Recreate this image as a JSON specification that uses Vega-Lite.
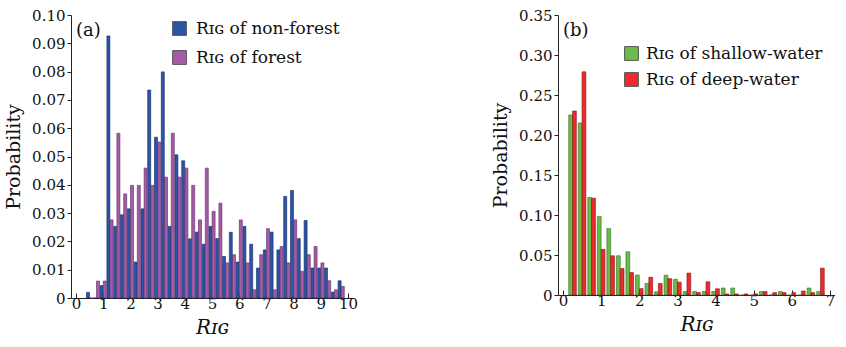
{
  "$schema": "https://vega.github.io/schema/vega-lite/v6.json",
  "padding": {"left": 4, "top": 8, "right": 0, "bottom": 0},
  "spacing": 133,
  "resolve": {"scale": {"color": "independent"}, "legend": {"color": "independent"}},
  "config": {
    "view": {"stroke": null},
    "font": "DejaVu Serif",
    "title": {"font": "DejaVu Serif", "fontSize": 18, "fontWeight": "normal", "color": "#111", "anchor": "start", "frame": "group", "baseline": "alphabetic", "offset": -32, "dx": 5},
    "axis": {
      "grid": false,
      "domainColor": "#222",
      "tickColor": "#222",
      "labelFont": "DejaVu Serif",
      "labelFontSize": 15,
      "labelColor": "#111",
      "titleFont": "DejaVu Serif",
      "titleColor": "#111",
      "titleFontWeight": "normal"
    },
    "axisX": {"tickSize": -5, "labelPadding": 3, "labelFlush": false, "titleFontSize": 20, "titleFontStyle": "italic", "titlePadding": 6},
    "axisY": {"tickSize": 4, "labelPadding": 2, "titleFontSize": 19, "titlePadding": 8},
    "legend": {
      "orient": "none",
      "padding": 0,
      "symbolType": "square",
      "symbolSize": 190,
      "symbolStrokeColor": "#555",
      "symbolStrokeWidth": 1,
      "symbolOpacity": 1,
      "labelFont": "DejaVu Serif",
      "labelFontSize": 17,
      "labelColor": "#111",
      "labelOffset": 8,
      "labelLimit": 300,
      "title": null
    }
  },
  "datasets": {
    "a": [
      {"x": 0.5, "s": "non-forest", "p": 0.002}, {"x": 0.5, "s": "forest", "p": 0},
      {"x": 0.75, "s": "non-forest", "p": 0}, {"x": 0.75, "s": "forest", "p": 0.006},
      {"x": 1.0, "s": "non-forest", "p": 0.0044}, {"x": 1.0, "s": "forest", "p": 0.006},
      {"x": 1.25, "s": "non-forest", "p": 0.0926}, {"x": 1.25, "s": "forest", "p": 0.0276},
      {"x": 1.5, "s": "non-forest", "p": 0.0253}, {"x": 1.5, "s": "forest", "p": 0.0582},
      {"x": 1.75, "s": "non-forest", "p": 0.0294}, {"x": 1.75, "s": "forest", "p": 0.0368},
      {"x": 2.0, "s": "non-forest", "p": 0.0315}, {"x": 2.0, "s": "forest", "p": 0.0398},
      {"x": 2.25, "s": "non-forest", "p": 0.0127}, {"x": 2.25, "s": "forest", "p": 0.0398},
      {"x": 2.5, "s": "non-forest", "p": 0.0315}, {"x": 2.5, "s": "forest", "p": 0.0459},
      {"x": 2.75, "s": "non-forest", "p": 0.0735}, {"x": 2.75, "s": "forest", "p": 0.0398},
      {"x": 3.0, "s": "non-forest", "p": 0.0568}, {"x": 3.0, "s": "forest", "p": 0.0551},
      {"x": 3.25, "s": "non-forest", "p": 0.0799}, {"x": 3.25, "s": "forest", "p": 0.0427},
      {"x": 3.5, "s": "non-forest", "p": 0.0253}, {"x": 3.5, "s": "forest", "p": 0.0582},
      {"x": 3.75, "s": "non-forest", "p": 0.0506}, {"x": 3.75, "s": "forest", "p": 0.0427},
      {"x": 4.0, "s": "non-forest", "p": 0.0485}, {"x": 4.0, "s": "forest", "p": 0.0459},
      {"x": 4.25, "s": "non-forest", "p": 0.0209}, {"x": 4.25, "s": "forest", "p": 0.0398},
      {"x": 4.5, "s": "non-forest", "p": 0.0233}, {"x": 4.5, "s": "forest", "p": 0.0276},
      {"x": 4.75, "s": "non-forest", "p": 0.019}, {"x": 4.75, "s": "forest", "p": 0.0459},
      {"x": 5.0, "s": "non-forest", "p": 0.0253}, {"x": 5.0, "s": "forest", "p": 0.0306},
      {"x": 5.25, "s": "non-forest", "p": 0.021}, {"x": 5.25, "s": "forest", "p": 0.0335},
      {"x": 5.5, "s": "non-forest", "p": 0.0147}, {"x": 5.5, "s": "forest", "p": 0.0124},
      {"x": 5.75, "s": "non-forest", "p": 0.0232}, {"x": 5.75, "s": "forest", "p": 0.0153},
      {"x": 6.0, "s": "non-forest", "p": 0.0127}, {"x": 6.0, "s": "forest", "p": 0.0276},
      {"x": 6.25, "s": "non-forest", "p": 0.0253}, {"x": 6.25, "s": "forest", "p": 0.0124},
      {"x": 6.5, "s": "non-forest", "p": 0.019}, {"x": 6.5, "s": "forest", "p": 0.0029},
      {"x": 6.75, "s": "non-forest", "p": 0.0106}, {"x": 6.75, "s": "forest", "p": 0.0153},
      {"x": 7.0, "s": "non-forest", "p": 0.017}, {"x": 7.0, "s": "forest", "p": 0.0245},
      {"x": 7.25, "s": "non-forest", "p": 0.0233}, {"x": 7.25, "s": "forest", "p": 0.0029},
      {"x": 7.5, "s": "non-forest", "p": 0.017}, {"x": 7.5, "s": "forest", "p": 0.0182},
      {"x": 7.75, "s": "non-forest", "p": 0.0359}, {"x": 7.75, "s": "forest", "p": 0.0124},
      {"x": 8.0, "s": "non-forest", "p": 0.038}, {"x": 8.0, "s": "forest", "p": 0.0276},
      {"x": 8.25, "s": "non-forest", "p": 0.021}, {"x": 8.25, "s": "forest", "p": 0.0094},
      {"x": 8.5, "s": "non-forest", "p": 0.0274}, {"x": 8.5, "s": "forest", "p": 0.0153},
      {"x": 8.75, "s": "non-forest", "p": 0.0106}, {"x": 8.75, "s": "forest", "p": 0.0182},
      {"x": 9.0, "s": "non-forest", "p": 0.0106}, {"x": 9.0, "s": "forest", "p": 0.0124},
      {"x": 9.25, "s": "non-forest", "p": 0.0106}, {"x": 9.25, "s": "forest", "p": 0.0061},
      {"x": 9.5, "s": "non-forest", "p": 0.0021}, {"x": 9.5, "s": "forest", "p": 0.0029},
      {"x": 9.75, "s": "non-forest", "p": 0.0061}, {"x": 9.75, "s": "forest", "p": 0.0041}
    ],
    "b": [
      {"x": 0.25, "s": "shallow-water", "p": 0.225}, {"x": 0.25, "s": "deep-water", "p": 0.23},
      {"x": 0.5, "s": "shallow-water", "p": 0.215}, {"x": 0.5, "s": "deep-water", "p": 0.279},
      {"x": 0.75, "s": "shallow-water", "p": 0.122}, {"x": 0.75, "s": "deep-water", "p": 0.121},
      {"x": 1.0, "s": "shallow-water", "p": 0.098}, {"x": 1.0, "s": "deep-water", "p": 0.057},
      {"x": 1.25, "s": "shallow-water", "p": 0.083}, {"x": 1.25, "s": "deep-water", "p": 0.049},
      {"x": 1.5, "s": "shallow-water", "p": 0.049}, {"x": 1.5, "s": "deep-water", "p": 0.033},
      {"x": 1.75, "s": "shallow-water", "p": 0.054}, {"x": 1.75, "s": "deep-water", "p": 0.028},
      {"x": 2.0, "s": "shallow-water", "p": 0.025}, {"x": 2.0, "s": "deep-water", "p": 0.008},
      {"x": 2.25, "s": "shallow-water", "p": 0.0144}, {"x": 2.25, "s": "deep-water", "p": 0.0222},
      {"x": 2.5, "s": "shallow-water", "p": 0.004}, {"x": 2.5, "s": "deep-water", "p": 0.0144},
      {"x": 2.75, "s": "shallow-water", "p": 0.0248}, {"x": 2.75, "s": "deep-water", "p": 0.0204},
      {"x": 3.0, "s": "shallow-water", "p": 0.0196}, {"x": 3.0, "s": "deep-water", "p": 0.016},
      {"x": 3.25, "s": "shallow-water", "p": 0.0043}, {"x": 3.25, "s": "deep-water", "p": 0.0274},
      {"x": 3.5, "s": "shallow-water", "p": 0.0043}, {"x": 3.5, "s": "deep-water", "p": 0.003},
      {"x": 3.75, "s": "shallow-water", "p": 0.0043}, {"x": 3.75, "s": "deep-water", "p": 0.0165},
      {"x": 4.0, "s": "shallow-water", "p": 0.0043}, {"x": 4.0, "s": "deep-water", "p": 0.0078},
      {"x": 4.25, "s": "shallow-water", "p": 0.0087}, {"x": 4.25, "s": "deep-water", "p": 0.0013},
      {"x": 4.5, "s": "shallow-water", "p": 0.0087}, {"x": 4.5, "s": "deep-water", "p": 0.0013},
      {"x": 4.75, "s": "shallow-water", "p": 0}, {"x": 4.75, "s": "deep-water", "p": 0.0013},
      {"x": 5.0, "s": "shallow-water", "p": 0}, {"x": 5.0, "s": "deep-water", "p": 0.0015},
      {"x": 5.25, "s": "shallow-water", "p": 0.0043}, {"x": 5.25, "s": "deep-water", "p": 0.0043},
      {"x": 5.5, "s": "shallow-water", "p": 0}, {"x": 5.5, "s": "deep-water", "p": 0.003},
      {"x": 5.75, "s": "shallow-water", "p": 0.0043}, {"x": 5.75, "s": "deep-water", "p": 0.003},
      {"x": 6.0, "s": "shallow-water", "p": 0}, {"x": 6.0, "s": "deep-water", "p": 0.003},
      {"x": 6.25, "s": "shallow-water", "p": 0}, {"x": 6.25, "s": "deep-water", "p": 0.005},
      {"x": 6.5, "s": "shallow-water", "p": 0.0087}, {"x": 6.5, "s": "deep-water", "p": 0.003},
      {"x": 6.75, "s": "shallow-water", "p": 0.0043}, {"x": 6.75, "s": "deep-water", "p": 0.0335}
    ]
  },
  "hconcat": [
    {
      "title": "(a)",
      "width": 282,
      "height": 283,
      "data": {"name": "a"},
      "encoding": {
        "x": {"field": "x", "type": "quantitative", "title": "Rɪɢ",
          "scale": {"domain": [0, 10], "nice": false},
          "axis": {"values": [0, 1, 2, 3, 4, 5, 6, 7, 8, 9, 10], "format": "d"}},
        "y": {"field": "p", "type": "quantitative", "title": "Probability",
          "scale": {"domain": [0, 0.1], "nice": false},
          "axis": {"values": [0, 0.01, 0.02, 0.03, 0.04, 0.05, 0.06, 0.07, 0.08, 0.09, 0.1],
            "labelExpr": "datum.value == 0 ? '0' : format(datum.value, '.2f')"}},
        "color": {"field": "s", "type": "nominal",
          "scale": {"domain": ["non-forest", "forest"], "range": ["#2a55a6", "#a65ba8"]},
          "legend": {"legendX": 100, "legendY": 5, "rowPadding": 10, "labelExpr": "'Rɪɢ of ' + datum.label"}}
      },
      "layer": [
        {
          "transform": [{"filter": "datum.s == 'non-forest'"}],
          "mark": {"type": "bar", "orient": "vertical", "width": 3, "xOffset": -1.6, "stroke": "#132a5c", "strokeWidth": 0.6}
        },
        {
          "transform": [{"filter": "datum.s == 'forest'"}],
          "mark": {"type": "bar", "orient": "vertical", "width": 3, "xOffset": 1.6, "stroke": "#5a2a5e", "strokeWidth": 0.6}
        }
      ]
    },
    {
      "title": "(b)",
      "width": 277,
      "height": 280,
      "data": {"name": "b"},
      "encoding": {
        "x": {"field": "x", "type": "quantitative", "title": "Rɪɢ",
          "scale": {"domain": [0, 7], "nice": false},
          "axis": {"values": [0, 1, 2, 3, 4, 5, 6, 7], "format": "d"}},
        "y": {"field": "p", "type": "quantitative", "title": "Probability",
          "scale": {"domain": [0, 0.35], "nice": false},
          "axis": {"values": [0, 0.05, 0.1, 0.15, 0.2, 0.25, 0.3, 0.35],
            "labelExpr": "datum.value == 0 ? '0' : format(datum.value, '.2f')"}},
        "color": {"field": "s", "type": "nominal",
          "scale": {"domain": ["shallow-water", "deep-water"], "range": ["#6bbd4a", "#ec2b2b"]},
          "legend": {"legendX": 65, "legendY": 30, "rowPadding": 7, "labelOffset": 6, "labelExpr": "'Rɪɢ of ' + datum.label"}}
      },
      "layer": [
        {
          "transform": [{"filter": "datum.s == 'shallow-water'"}],
          "mark": {"type": "bar", "orient": "vertical", "width": 3.8, "xOffset": -1.9, "stroke": "#2d6a20", "strokeWidth": 0.6}
        },
        {
          "transform": [{"filter": "datum.s == 'deep-water'"}],
          "mark": {"type": "bar", "orient": "vertical", "width": 3.8, "xOffset": 1.9, "stroke": "#7a1818", "strokeWidth": 0.6}
        }
      ]
    }
  ]
}
